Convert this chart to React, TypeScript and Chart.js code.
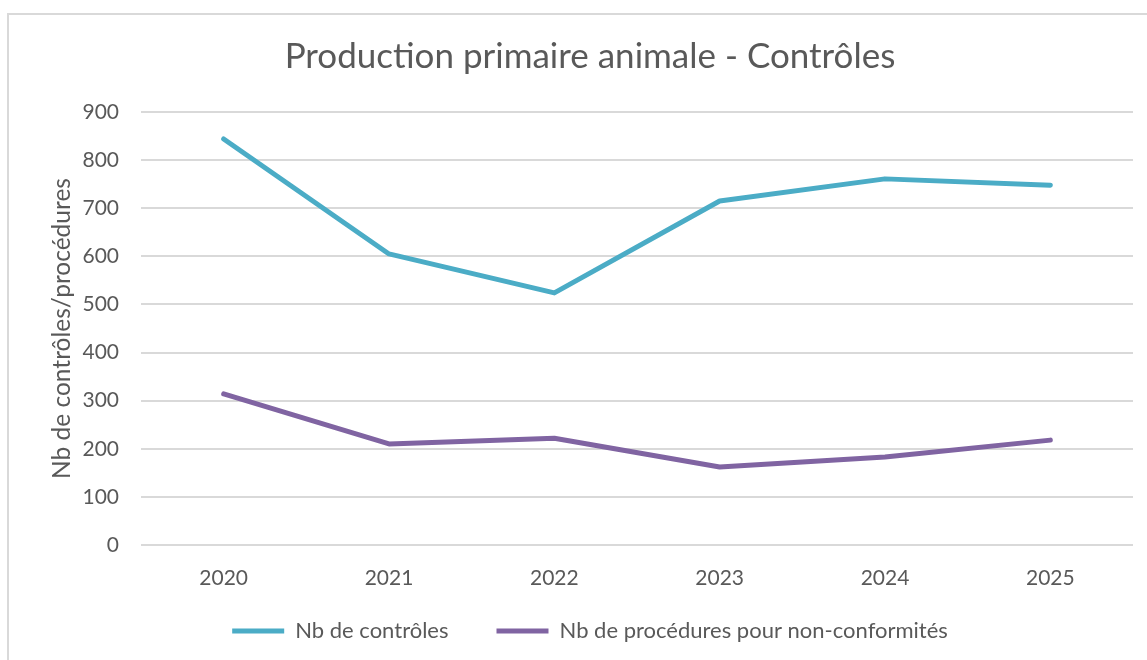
import React, { useEffect, useRef } from "react";
import { Chart, registerables } from "chart.js";

Chart.register(...registerables);

const categories = ["2020", "2021", "2022", "2023", "2024", "2025"];
const controles = [844, 605, 524, 715, 761, 748];
const procedures = [314, 210, 222, 162, 183, 218];
const seriesNames = ["Nb de contrôles", "Nb de procédures pour non-conformités"];
const chartTitle = "Production primaire animale - Contrôles";
const yAxisTitle = "Nb de contrôles/procédures";

const TEXT = "#595959";
const FONT = "Lato";

const legendFix = {
  id: "legendFix",
  beforeLayout(chart: any) {
    const lg = chart.legend;
    if (lg && !lg._patched) {
      const orig = lg.fit.bind(lg);
      lg.fit = function () {
        orig();
        this.height = 55;
      };
      lg._patched = true;
    }
  },
  afterLayout(chart: any) {
    const lg = chart.legend;
    if (lg) {
      lg.top = 572;
      lg.bottom = 660;
      lg.height = 88;
    }
  },
};

export default function App() {
  const ref = useRef<HTMLCanvasElement | null>(null);

  useEffect(() => {
    if (!ref.current) return;
    const chart = new Chart(ref.current, {
      type: "line",
      data: {
        labels: categories,
        datasets: [
          {
            label: seriesNames[0],
            data: controles,
            borderColor: "#4BACC6",
            backgroundColor: "#4BACC6",
            borderWidth: 5,
            borderCapStyle: "round",
            borderJoinStyle: "round",
            pointRadius: 0,
            tension: 0,
          },
          {
            label: seriesNames[1],
            data: procedures,
            borderColor: "#8064A2",
            backgroundColor: "#8064A2",
            borderWidth: 5,
            borderCapStyle: "round",
            borderJoinStyle: "round",
            pointRadius: 0,
            tension: 0,
          },
        ],
      },
      plugins: [legendFix],
      options: {
        responsive: false,
        animation: false,
        layout: { padding: { left: 47, right: 14, top: 0, bottom: 0 } },
        plugins: {
          title: {
            display: true,
            text: chartTitle,
            color: TEXT,
            font: { family: FONT, size: 35, weight: "normal" },
            padding: { top: 36, bottom: 34 },
          },
          legend: {
            position: "bottom",
            labels: {
              color: TEXT,
              font: { family: FONT, size: 22 },
              usePointStyle: true,
              pointStyle: "line",
              pointStyleWidth: 52,
              padding: 48,
            },
          },
          tooltip: { enabled: false },
        },
        scales: {
          x: {
            offset: true,
            grid: { display: false, drawTicks: false },
            border: { display: false },
            ticks: {
              color: TEXT,
              font: { family: FONT, size: 21 },
              padding: 21,
            },
            afterFit: (s: any) => {
              s.height = 60;
            },
          },
          y: {
            min: 0,
            max: 900,
            ticks: {
              stepSize: 100,
              color: TEXT,
              font: { family: FONT, size: 21 },
              padding: 22,
            },
            grid: { color: "#d9d9d9", lineWidth: 2, drawTicks: false },
            border: { display: false },
            title: {
              display: true,
              text: yAxisTitle,
              color: TEXT,
              font: { family: FONT, size: 24.5 },
              padding: { top: 0, bottom: 0 },
            },
            afterFit: (s: any) => {
              s.width = 94;
            },
          },
        },
      },
    });
    return () => chart.destroy();
  }, []);

  return (
    <div style={{ position: "fixed", left: 0, top: 0, width: 1147, height: 660, background: "#fff", overflow: "hidden" }}>
      <div
        style={{
          position: "absolute",
          left: 7,
          top: 13,
          width: 1300,
          height: 800,
          borderLeft: "2px solid #d9d9d9",
          borderTop: "2px solid #d9d9d9",
        }}
      />
      <canvas ref={ref} width={1147} height={660} style={{ position: "absolute", left: 0, top: 0 }} />
    </div>
  );
}
